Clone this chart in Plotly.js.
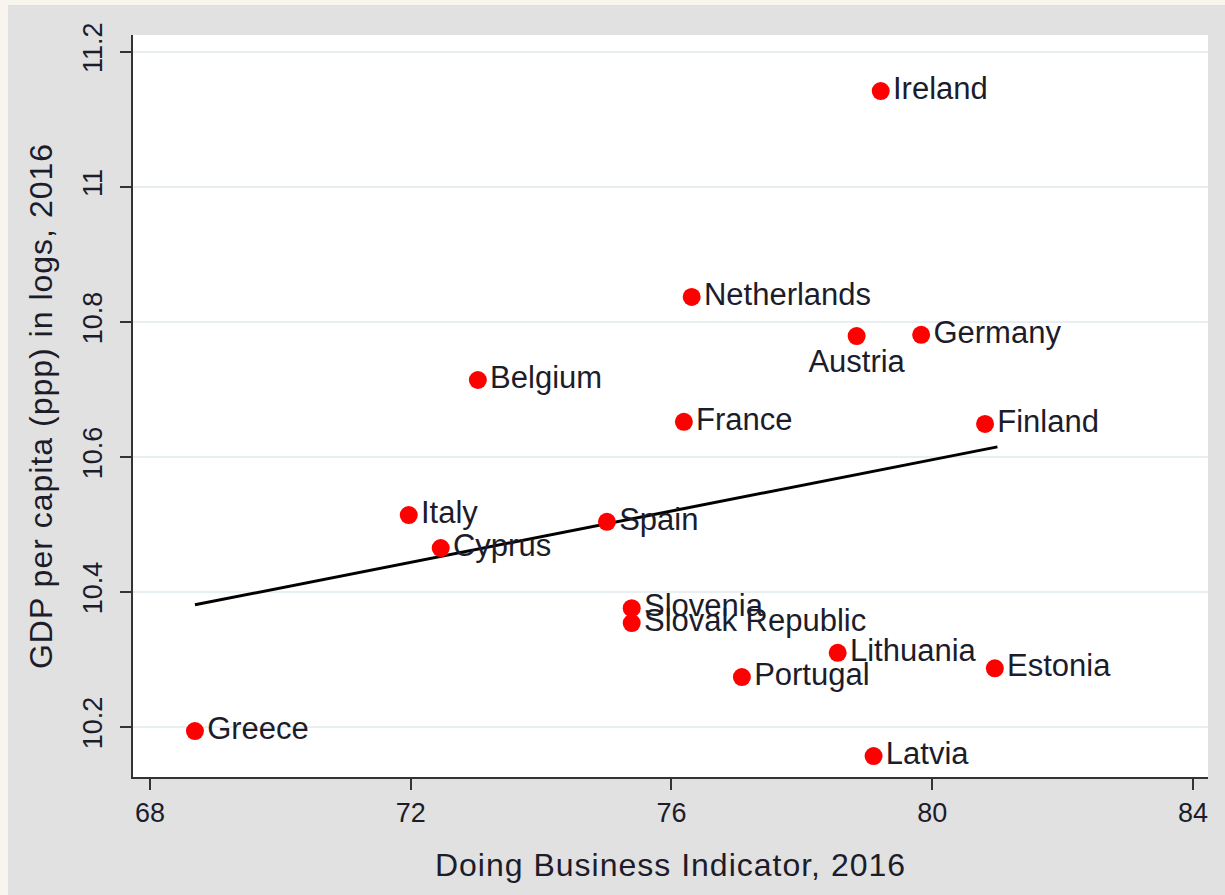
<!DOCTYPE html>
<html>
<head>
<meta charset="utf-8">
<script src="https://cdn.plot.ly/plotly-3.0.1.min.js"></script>
<style>
  html, body { margin: 0; padding: 0; background: #f8f4ee; width: 1225px; height: 895px; overflow: hidden; }
  #chart { position: absolute; left: 8px; top: 5px; width: 1217px; height: 890px; }
  #chart .xtitle, #chart .ytitle { letter-spacing: 1px; }
</style>
</head>
<body>
<div id="chart"></div>
<script>
const countries = ["Ireland","Netherlands","Austria","Germany","Belgium","France","Finland","Italy","Spain","Cyprus","Slovenia","Slovak Republic","Lithuania","Estonia","Portugal","Greece","Latvia"];
const doingBusiness = [79.21, 76.31, 78.84, 79.83, 73.03, 76.19, 80.81, 71.97, 75.01, 72.46, 75.39, 75.39, 78.55, 80.96, 77.08, 68.69, 79.10];
const gdpLog = [11.142, 10.837, 10.779, 10.781, 10.714, 10.652, 10.649, 10.514, 10.504, 10.465, 10.376, 10.354, 10.310, 10.287, 10.274, 10.194, 10.157];
const labelPos = ["middle right","middle right","bottom center","middle right","middle right","middle right","middle right","middle right","middle right","middle right","middle right","middle right","middle right","middle right","middle right","middle right","middle right"];
const fitX = [68.69, 81.0];
const fitY = [10.381, 10.615];
const xTicks = [68, 72, 76, 80, 84];
const yTicks = [10.2, 10.4, 10.6, 10.8, 11, 11.2];
const yTickText = ["10.2", "10.4", "10.6", "10.8", "11", "11.2"];

const fontFam = "Liberation Sans, Arial, sans-serif";
const textCol = "#1c1c2a";

const traces = [
  {
    x: fitX, y: fitY, mode: "lines", type: "scatter",
    line: { color: "#000", width: 3 }, hoverinfo: "skip", showlegend: false
  },
  {
    x: doingBusiness, y: gdpLog, text: countries, mode: "markers+text", type: "scatter",
    textposition: labelPos,
    textfont: { family: fontFam, size: 31, color: textCol },
    marker: { color: "#ff0000", size: 18 },
    showlegend: false
  }
];

const layout = {
  width: 1217, height: 890,
  paper_bgcolor: "#e1e1e1",
  plot_bgcolor: "#ffffff",
  margin: { l: 125, r: 17, t: 30, b: 118 },
  font: { family: fontFam, color: textCol },
  xaxis: {
    range: [67.74, 84.23],
    tickvals: xTicks,
    ticktext: xTicks.map(String),
    ticks: "outside", ticklen: 11, tickwidth: 2, tickcolor: "#333",
    showline: true, linecolor: "#333", linewidth: 2,
    showgrid: false, zeroline: false,
    tickfont: { size: 27, family: fontFam, color: textCol },
    title: { text: "Doing Business Indicator, 2016", font: { size: 32, family: fontFam, color: textCol }, standoff: 26 }
  },
  yaxis: {
    range: [10.126, 11.225],
    tickvals: yTicks,
    ticktext: yTickText,
    tickangle: -90,
    ticks: "outside", ticklen: 11, tickwidth: 2, tickcolor: "#333",
    ticklabelstandoff: 7,
    showline: true, linecolor: "#333", linewidth: 2,
    showgrid: true, gridcolor: "#e8eff2", gridwidth: 1.5,
    zeroline: false,
    tickfont: { size: 27, family: fontFam, color: textCol },
    title: { text: "GDP per capita (ppp) in logs, 2016", font: { size: 32, family: fontFam, color: textCol }, standoff: 16 }
  }
};

Plotly.newPlot("chart", traces, layout, { displayModeBar: false, staticPlot: true });
</script>
</body>
</html>
